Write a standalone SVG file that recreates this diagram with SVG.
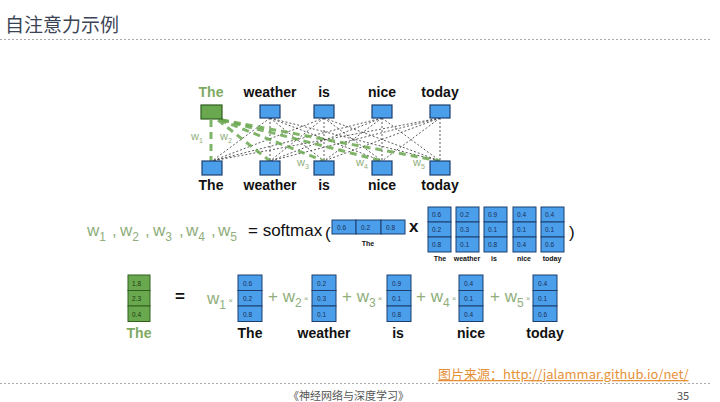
<svg xmlns="http://www.w3.org/2000/svg" width="720" height="402" viewBox="0 0 720 402">
<defs>
<style>
.bg{fill:#ffffff}
.title{font-family:"Noto Sans CJK SC","Noto Sans",sans-serif;font-size:19px;fill:#3b4455}
.rule{stroke:#a9a9a9;stroke-width:1;stroke-dasharray:2 2;fill:none}
.word{font-family:"Liberation Sans",Arial,sans-serif;font-size:14px;font-weight:bold;fill:#111;text-anchor:middle}
.gword{fill:#7faa63}
.tok{fill:#4a9eea;stroke:#1d3f6e;stroke-width:1.2}
.gtok{fill:#6aa84f;stroke:#2f5e1d;stroke-width:1.2}
.thin{stroke:#333;stroke-width:0.8;stroke-dasharray:2 2;fill:none}
.thick{stroke:#6aa84f;stroke-width:3;stroke-dasharray:7 5;fill:none;opacity:0.85}
.wl{font-family:"Liberation Sans",Arial,sans-serif;font-size:11px;fill:#8fae7c}
.eqw{font-family:"Liberation Sans",Arial,sans-serif;font-size:17px;fill:#8fae7c}
.eqb{font-family:"Liberation Sans",Arial,sans-serif;font-size:17px;fill:#111}
.cell{fill:#4a9eea;stroke:#1d3f6e;stroke-width:1}
.gcell{fill:#6aa84f;stroke:#2f5e1d;stroke-width:1}
.num{font-family:"Liberation Sans",Arial,sans-serif;font-size:6.5px;fill:#1d2f55}
.gnum{font-family:"Liberation Sans",Arial,sans-serif;font-size:6.5px;fill:#1d3a10}
.lab{font-family:"Liberation Sans",Arial,sans-serif;font-size:7px;font-weight:bold;fill:#111;text-anchor:middle}
.foot{font-family:"Noto Sans CJK SC","Liberation Serif",serif;font-size:11px;fill:#555}
.src{font-family:"Noto Sans CJK SC","Liberation Sans",sans-serif;font-size:13px;fill:#e69138;text-decoration:underline}
</style>
</defs>
<rect class="bg" x="0" y="0" width="720" height="402"/>
<g id="title">
<text class="title" x="5" y="32">自注意力示例</text>
<line class="rule" x1="0" y1="39.5" x2="712" y2="39.5"/>
</g>

<g id="connectors">
<g>
<line class="thin" x1="270" y1="118" x2="212" y2="161"/>
<line class="thin" x1="270" y1="118" x2="270" y2="161"/>
<line class="thin" x1="270" y1="118" x2="324" y2="161"/>
<line class="thin" x1="270" y1="118" x2="382" y2="161"/>
<line class="thin" x1="270" y1="118" x2="440" y2="161"/>
<line class="thin" x1="324" y1="118" x2="212" y2="161"/>
<line class="thin" x1="324" y1="118" x2="270" y2="161"/>
<line class="thin" x1="324" y1="118" x2="324" y2="161"/>
<line class="thin" x1="324" y1="118" x2="382" y2="161"/>
<line class="thin" x1="324" y1="118" x2="440" y2="161"/>
<line class="thin" x1="382" y1="118" x2="212" y2="161"/>
<line class="thin" x1="382" y1="118" x2="270" y2="161"/>
<line class="thin" x1="382" y1="118" x2="324" y2="161"/>
<line class="thin" x1="382" y1="118" x2="382" y2="161"/>
<line class="thin" x1="382" y1="118" x2="440" y2="161"/>
<line class="thin" x1="440" y1="118" x2="212" y2="161"/>
<line class="thin" x1="440" y1="118" x2="270" y2="161"/>
<line class="thin" x1="440" y1="118" x2="324" y2="161"/>
<line class="thin" x1="440" y1="118" x2="382" y2="161"/>
<line class="thin" x1="440" y1="118" x2="440" y2="161"/>
</g>
<g>
<line class="thick" x1="211" y1="120" x2="211" y2="161"/>
<line class="thick" x1="218" y1="120" x2="270" y2="161"/>
<line class="thick" x1="220" y1="120" x2="324" y2="161"/>
<line class="thick" x1="222" y1="120" x2="382" y2="161"/>
<line class="thick" x1="222" y1="120" x2="440" y2="161"/>
</g>
<text class="wl" x="191" y="140">w<tspan font-size="7" dy="3">1</tspan></text>
<text class="wl" x="220" y="140">w<tspan font-size="7" dy="3">2</tspan></text>
<text class="wl" x="297" y="166">w<tspan font-size="7" dy="3">3</tspan></text>
<text class="wl" x="356" y="166">w<tspan font-size="7" dy="3">4</tspan></text>
<text class="wl" x="413" y="166">w<tspan font-size="7" dy="3">5</tspan></text>
</g>

<g id="top-the"><text class="word gword" x="211" y="97">The</text><rect class="gtok" x="201" y="105" width="21" height="14"/></g>
<g id="top-weather"><text class="word" x="270" y="97">weather</text><rect class="tok" x="260" y="105" width="20" height="13"/></g>
<g id="top-is"><text class="word" x="324" y="97">is</text><rect class="tok" x="314" y="105" width="20" height="13"/></g>
<g id="top-nice"><text class="word" x="382" y="97">nice</text><rect class="tok" x="372" y="105" width="20" height="13"/></g>
<g id="top-today"><text class="word" x="440" y="97">today</text><rect class="tok" x="430" y="105" width="20" height="13"/></g>

<g id="bot-the"><rect class="tok" x="202" y="161" width="20" height="14"/><text class="word" x="211" y="190">The</text></g>
<g id="bot-weather"><rect class="tok" x="260" y="161" width="20" height="14"/><text class="word" x="270" y="190">weather</text></g>
<g id="bot-is"><rect class="tok" x="314" y="161" width="20" height="14"/><text class="word" x="324" y="190">is</text></g>
<g id="bot-nice"><rect class="tok" x="372" y="161" width="20" height="14"/><text class="word" x="382" y="190">nice</text></g>
<g id="bot-today"><rect class="tok" x="430" y="161" width="20" height="14"/><text class="word" x="440" y="190">today</text></g>

<g id="equation">
<text class="eqw" x="87" y="236">w<tspan font-size="12" dy="5">1</tspan></text>
<text class="eqw" x="112" y="236">,</text>
<text class="eqw" x="120" y="236">w<tspan font-size="12" dy="5">2</tspan></text>
<text class="eqw" x="145" y="236">,</text>
<text class="eqw" x="153" y="236">w<tspan font-size="12" dy="5">3</tspan></text>
<text class="eqw" x="179" y="236">,</text>
<text class="eqw" x="186" y="236">w<tspan font-size="12" dy="5">4</tspan></text>
<text class="eqw" x="211" y="236">,</text>
<text class="eqw" x="218" y="236">w<tspan font-size="12" dy="5">5</tspan></text>
<text class="eqb" x="248" y="236" font-size="16.5">= softmax</text>
<text class="eqb" x="325" y="239" font-size="26">(</text>
</g>

<g id="row-vector">
<rect class="cell" x="332" y="220" width="24" height="14"/>
<rect class="cell" x="356" y="220" width="25" height="14"/>
<rect class="cell" x="381" y="220" width="24" height="14"/>
<text class="num" x="337" y="229.5">0.6</text>
<text class="num" x="361" y="229.5">0.2</text>
<text class="num" x="386" y="229.5">0.8</text>
<text class="lab" x="368" y="246">The</text>
</g>
<text class="eqb" x="409" y="232" font-size="13" font-weight="bold">x</text>

<g id="matrix">
<g>
<rect class="cell" x="428" y="207" width="23" height="15"/><rect class="cell" x="428" y="222" width="23" height="15"/><rect class="cell" x="428" y="237" width="23" height="15"/>
<text class="num" x="432" y="217">0.6</text><text class="num" x="432" y="232">0.2</text><text class="num" x="432" y="247">0.8</text>
<text class="lab" x="440" y="261">The</text>
</g>
<g>
<rect class="cell" x="456" y="207" width="23" height="15"/><rect class="cell" x="456" y="222" width="23" height="15"/><rect class="cell" x="456" y="237" width="23" height="15"/>
<text class="num" x="460" y="217">0.2</text><text class="num" x="460" y="232">0.3</text><text class="num" x="460" y="247">0.1</text>
<text class="lab" x="467" y="261">weather</text>
</g>
<g>
<rect class="cell" x="484" y="207" width="23" height="15"/><rect class="cell" x="484" y="222" width="23" height="15"/><rect class="cell" x="484" y="237" width="23" height="15"/>
<text class="num" x="488" y="217">0.9</text><text class="num" x="488" y="232">0.1</text><text class="num" x="488" y="247">0.8</text>
<text class="lab" x="494" y="261">is</text>
</g>
<g>
<rect class="cell" x="513" y="207" width="23" height="15"/><rect class="cell" x="513" y="222" width="23" height="15"/><rect class="cell" x="513" y="237" width="23" height="15"/>
<text class="num" x="517" y="217">0.4</text><text class="num" x="517" y="232">0.1</text><text class="num" x="517" y="247">0.4</text>
<text class="lab" x="524" y="261">nice</text>
</g>
<g>
<rect class="cell" x="541" y="207" width="23" height="15"/><rect class="cell" x="541" y="222" width="23" height="15"/><rect class="cell" x="541" y="237" width="23" height="15"/>
<text class="num" x="545" y="217">0.4</text><text class="num" x="545" y="232">0.1</text><text class="num" x="545" y="247">0.6</text>
<text class="lab" x="552" y="261">today</text>
</g>
</g>
<text class="eqb" x="569" y="238" font-size="26">)</text>

<g id="result-the">
<rect class="gcell" x="128" y="275" width="22" height="15.5"/><rect class="gcell" x="128" y="290.5" width="22" height="15.5"/><rect class="gcell" x="128" y="306" width="22" height="15.5"/>
<text class="gnum" x="132" y="285.5">1.8</text><text class="gnum" x="132" y="301">2.3</text><text class="gnum" x="132" y="316.5">0.4</text>
<text class="word gword" x="139" y="338">The</text>
</g>
<text class="eqb" x="175" y="302" font-size="16" font-weight="bold">=</text>

<g id="sum">
<text class="eqw" x="207" y="304">w<tspan font-size="12" dy="5">1</tspan><tspan font-size="8" dy="-6"> ×</tspan></text>
<text class="eqw" x="268" y="302">+ w<tspan font-size="12" dy="5">2</tspan><tspan font-size="8" dy="-6"> ×</tspan></text>
<text class="eqw" x="342" y="302">+ w<tspan font-size="12" dy="5">3</tspan><tspan font-size="8" dy="-6"> ×</tspan></text>
<text class="eqw" x="416" y="302">+ w<tspan font-size="12" dy="5">4</tspan><tspan font-size="8" dy="-6"> ×</tspan></text>
<text class="eqw" x="490" y="302">+ w<tspan font-size="12" dy="5">5</tspan><tspan font-size="8" dy="-6"> ×</tspan></text>
</g>

<g id="vec-the">
<rect class="cell" x="238" y="275" width="24" height="15.5"/><rect class="cell" x="238" y="290.5" width="24" height="15.5"/><rect class="cell" x="238" y="306" width="24" height="15.5"/>
<text class="num" x="243" y="285.5">0.6</text><text class="num" x="243" y="301">0.2</text><text class="num" x="243" y="316.5">0.8</text>
<text class="word" x="250" y="338">The</text>
</g>
<g id="vec-weather">
<rect class="cell" x="312" y="275" width="24" height="15.5"/><rect class="cell" x="312" y="290.5" width="24" height="15.5"/><rect class="cell" x="312" y="306" width="24" height="15.5"/>
<text class="num" x="317" y="285.5">0.2</text><text class="num" x="317" y="301">0.3</text><text class="num" x="317" y="316.5">0.1</text>
<text class="word" x="324" y="338">weather</text>
</g>
<g id="vec-is">
<rect class="cell" x="387" y="275" width="24" height="15.5"/><rect class="cell" x="387" y="290.5" width="24" height="15.5"/><rect class="cell" x="387" y="306" width="24" height="15.5"/>
<text class="num" x="392" y="285.5">0.9</text><text class="num" x="392" y="301">0.1</text><text class="num" x="392" y="316.5">0.8</text>
<text class="word" x="398" y="338">is</text>
</g>
<g id="vec-nice">
<rect class="cell" x="459" y="275" width="24" height="15.5"/><rect class="cell" x="459" y="290.5" width="24" height="15.5"/><rect class="cell" x="459" y="306" width="24" height="15.5"/>
<text class="num" x="464" y="285.5">0.4</text><text class="num" x="464" y="301">0.1</text><text class="num" x="464" y="316.5">0.4</text>
<text class="word" x="471" y="338">nice</text>
</g>
<g id="vec-today">
<rect class="cell" x="533" y="275" width="24" height="15.5"/><rect class="cell" x="533" y="290.5" width="24" height="15.5"/><rect class="cell" x="533" y="306" width="24" height="15.5"/>
<text class="num" x="538" y="285.5">0.4</text><text class="num" x="538" y="301">0.1</text><text class="num" x="538" y="316.5">0.6</text>
<text class="word" x="545" y="338">today</text>
</g>

<g id="footer">
<text class="src" x="438" y="379">图片来源：http://jalammar.github.io/net/</text>
<line class="rule" x1="0" y1="383.5" x2="712" y2="383.5"/>
<text class="foot" x="288" y="400">《神经网络与深度学习》</text>
<text class="foot" x="677" y="400" font-family="Liberation Serif, serif" font-size="12">35</text>
</g>
</svg>
